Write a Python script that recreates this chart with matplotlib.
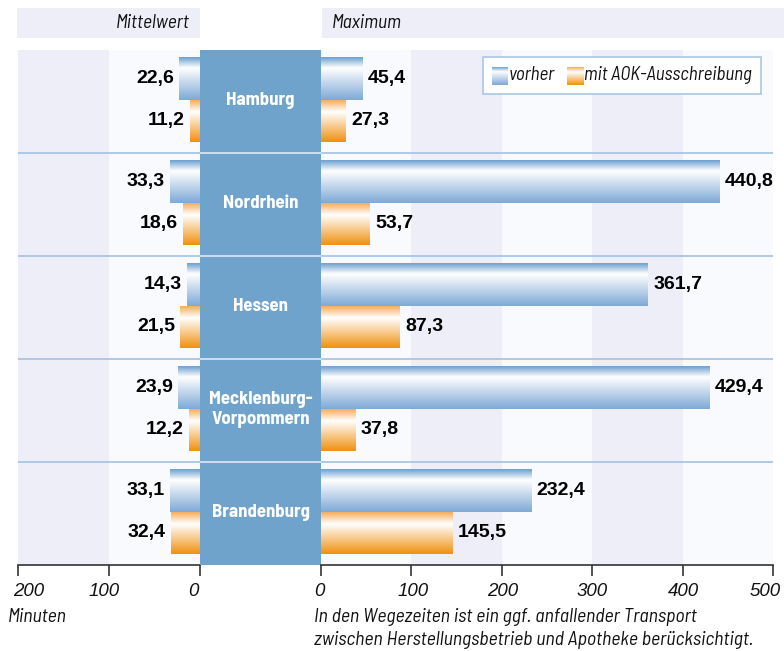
import numpy as np
import matplotlib
matplotlib.use("Agg")
import matplotlib.pyplot as plt
from matplotlib.patches import Rectangle
from matplotlib.colors import LinearSegmentedColormap
from matplotlib.transforms import ScaledTranslation

# ---------------- data ----------------
regions = ["Hamburg", "Nordrhein", "Hessen", "Mecklenburg-\nVorpommern", "Brandenburg"]
mean_before = [22.6, 33.3, 14.3, 23.9, 33.1]
mean_after = [11.2, 18.6, 21.5, 12.2, 32.4]
max_before = [45.4, 440.8, 361.7, 429.4, 232.4]
max_after = [27.3, 53.7, 87.3, 37.8, 145.5]
left_ticks = [200, 100, 0]
right_ticks = [0, 100, 200, 300, 400, 500]
series_labels = ["vorher", "mit AOK-Ausschreibung"]

# ---------------- style ----------------
FONT = ["Liberation Sans", "DejaVu Sans"]
COND = ["Barlow Semi Condensed", "Liberation Sans", "DejaVu Sans"]
BAND = "#6fa3cc"
STRIPE_DARK = "#eeeef8"
STRIPE_LIGHT = "#f9fafd"
SEP = "#a9c6e4"

blue_cmap = LinearSegmentedColormap.from_list(
    "b", [(0.0, "#6b9fcf"), (0.25, "#ffffff"), (1.0, "#7ea9d6")])
orange_cmap = LinearSegmentedColormap.from_list(
    "o", [(0.0, "#f6ad5a"), (0.28, "#ffffff"), (1.0, "#f0900e")])
grad = np.linspace(0, 1, 256).reshape(-1, 1)

W, H = 784, 651
fig = plt.figure(figsize=(7.84, 6.51), dpi=100)
fig.patch.set_facecolor("white")

top_px, bot_px = 50, 565
ax_bottom = (H - bot_px) / H
ax_height = (bot_px - top_px) / H

axL = fig.add_axes([18 / W, ax_bottom, 182 / W, ax_height])
axM = fig.add_axes([200 / W, ax_bottom, 121 / W, ax_height])
axR = fig.add_axes([321 / W, ax_bottom, 452 / W, ax_height])

n = len(regions)
b0, b1, b2 = 0.07, 0.485, 0.89


def grad_bar(ax, x0, x1, y0, y1, cmap):
    ax.imshow(grad, cmap=cmap, extent=(x0, x1, y1, y0), aspect="auto",
              interpolation="bicubic", zorder=3)


for ax, xlim, ticks in [(axL, (200, 0), left_ticks), (axR, (0, 500), right_ticks)]:
    ax.set_xlim(*xlim)
    ax.set_ylim(n, 0)
    ax.set_facecolor(STRIPE_LIGHT)
    for s in ["top", "left", "right"]:
        ax.spines[s].set_visible(False)
    ax.spines["bottom"].set_color("#333333")
    ax.spines["bottom"].set_linewidth(1.2)
    ax.set_yticks([])
    ax.set_xticks(ticks)
    ax.set_xticklabels([str(t) for t in ticks], fontsize=13.5, style="italic",
                       family=FONT, color="#111111")
    ax.tick_params(axis="x", direction="out", length=8, width=1.2,
                   color="#333333", pad=5)
    for i in range(1, n):
        ax.axhline(i, color=SEP, lw=1.3, zorder=2)

# small horizontal nudges of tick labels, as in the reference
for lab, dx in zip(axL.get_xticklabels(), [11, -5, -7]):
    lab.set_transform(lab.get_transform() + ScaledTranslation(dx / 100, 0, fig.dpi_scale_trans))
for lab, dx in zip(axR.get_xticklabels(), [-2, 2, 1, 0, 1, -8]):
    lab.set_transform(lab.get_transform() + ScaledTranslation(dx / 100, 0, fig.dpi_scale_trans))

# stripes
axL.axvspan(100, 200, color=STRIPE_DARK, zorder=0, lw=0)
axR.axvspan(100, 200, color=STRIPE_DARK, zorder=0, lw=0)
axR.axvspan(300, 400, color=STRIPE_DARK, zorder=0, lw=0)


def fmt(v):
    return f"{v:.1f}".replace(".", ",")


for i in range(n):
    grad_bar(axL, 0, mean_before[i], i + b0, i + b1, blue_cmap)
    grad_bar(axL, 0, mean_after[i], i + b1, i + b2, orange_cmap)
    grad_bar(axR, 0, max_before[i], i + b0, i + b1, blue_cmap)
    grad_bar(axR, 0, max_after[i], i + b1, i + b2, orange_cmap)
    axL.text(mean_before[i] + 6, i + (b0 + b1) / 2, fmt(mean_before[i]), ha="right",
             va="center", fontsize=14, fontweight="bold", family=FONT, zorder=4)
    axL.text(mean_after[i] + 6, i + (b1 + b2) / 2, fmt(mean_after[i]), ha="right",
             va="center", fontsize=14, fontweight="bold", family=FONT, zorder=4)
    axR.text(max_before[i] + 6, i + (b0 + b1) / 2, fmt(max_before[i]), ha="left",
             va="center", fontsize=14, fontweight="bold", family=FONT, zorder=4)
    axR.text(max_after[i] + 6, i + (b1 + b2) / 2, fmt(max_after[i]), ha="left",
             va="center", fontsize=14, fontweight="bold", family=FONT, zorder=4)

# middle band
axM.set_xlim(0, 1)
axM.set_ylim(n, 0)
axM.set_facecolor(BAND)
axM.set_xticks([])
axM.set_yticks([])
for s in axM.spines.values():
    s.set_visible(False)
for i in range(1, n):
    axM.axhline(i, color="#d6e4f2", lw=1.3)
for i, r in enumerate(regions):
    axM.text(0.5, i + 0.49, r, ha="center", va="center", color="white",
             fontsize=13.5, fontweight="bold", family=COND, linespacing=1.3)

# header boxes
fig.patches.append(Rectangle((17 / W, 1 - 38 / H), 183 / W, 30 / H,
                             transform=fig.transFigure, color=STRIPE_DARK, lw=0))
fig.patches.append(Rectangle((322 / W, 1 - 38 / H), 462 / W, 30 / H,
                             transform=fig.transFigure, color=STRIPE_DARK, lw=0))
fig.text(190 / W, 1 - 23 / H, "Mittelwert", ha="right", va="center", fontsize=14,
         style="italic", family=COND, color="#111111")
fig.text(332 / W, 1 - 23 / H, "Maximum", ha="left", va="center", fontsize=14,
         style="italic", family=COND, color="#111111")

# legend (manual)
lx0, lx1, ly0, ly1 = 483, 761, 57, 94
fig.patches.append(Rectangle((lx0 / W, 1 - ly1 / H), (lx1 - lx0) / W, (ly1 - ly0) / H,
                             transform=fig.transFigure, facecolor="white",
                             edgecolor="#a9c6e4", lw=1.2, zorder=5))
axLeg1 = fig.add_axes([492 / W, 1 - 85 / H, 16 / W, 18 / H], zorder=6)
axLeg2 = fig.add_axes([567 / W, 1 - 85 / H, 17 / W, 18 / H], zorder=6)
for a, cm in [(axLeg1, blue_cmap), (axLeg2, orange_cmap)]:
    a.imshow(grad, cmap=cm, aspect="auto", extent=(0, 1, 0, 1), interpolation="bicubic")
    a.axis("off")
fig.text(509 / W, 1 - 75 / H, series_labels[0], ha="left", va="center", fontsize=13.6,
         style="italic", family=COND, color="#111111", zorder=7)
fig.text(584 / W, 1 - 75 / H, series_labels[1], ha="left", va="center", fontsize=13.6,
         style="italic", family=COND, color="#111111", zorder=7)

# footnotes
fig.text(8 / W, 1 - 617 / H, "Minuten", ha="left", va="center", fontsize=14.2,
         style="italic", family=COND, color="#111111")
fig.text(314 / W, 1 - 617 / H, "In den Wegezeiten ist ein ggf. anfallender Transport",
         ha="left", va="center", fontsize=14.2, style="italic", family=COND, color="#111111")
fig.text(314 / W, 1 - 640 / H, "zwischen Herstellungsbetrieb und Apotheke berücksichtigt.",
         ha="left", va="center", fontsize=14.2, style="italic", family=COND, color="#111111")

fig.savefig("out.png", dpi=100)
